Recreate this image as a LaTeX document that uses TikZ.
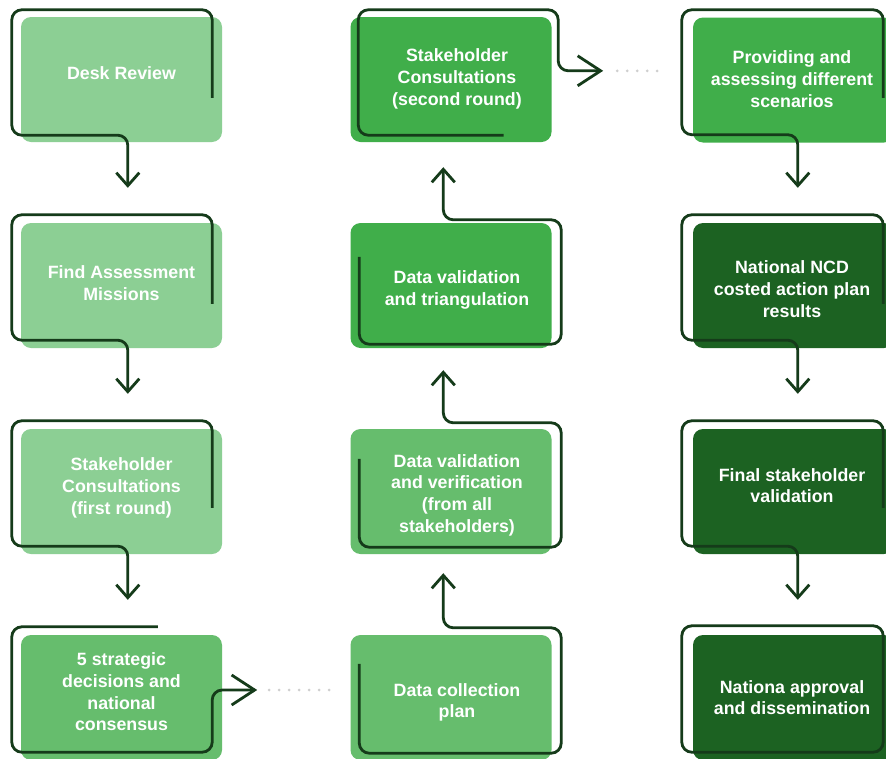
\documentclass[tikz,border=0pt]{standalone}
\usepackage{fontspec}
\setmainfont{Liberation Sans}
\usetikzlibrary{calc,arrows.meta}
\definecolor{gLight}{HTML}{8CCF94}
\definecolor{gMed}{HTML}{66BD6D}
\definecolor{gBright}{HTML}{40AE4A}
\definecolor{gDark}{HTML}{1C6222}
\definecolor{gOut}{HTML}{153B1A}
\definecolor{gDot}{HTML}{CFCFCF}
\tikzset{
  box/.style={rectangle, rounded corners=10pt, minimum width=201pt, minimum height=125pt, inner sep=0pt, draw=none},
  txt/.style={text=white, font=\bfseries\fontsize{17.8}{21.7}\selectfont, align=center, inner sep=0pt},
  flow/.style={draw=gOut, line width=2.8pt, rounded corners=10pt},
  vhead/.style={-{Straight Barb[length=13pt,width=23pt]}},
  hhead/.style={-{Straight Barb[length=23pt,width=30pt]}},
  dots/.style={draw=gDot, line width=3pt, line cap=round, dash pattern=on 0pt off 10pt}
}
\begin{document}
\begin{tikzpicture}[x=1pt,y=-1pt]
\useasboundingbox (0,0) rectangle (886,758);
\fill[white] (0,0) rectangle (886,758);
% column 1
\node[box, fill=gLight, label={[txt, yshift=6.5pt]center:Desk Review}] (a1) at (121.5,79.5) {};
\node[box, fill=gLight, label={[txt, yshift=2.5pt]center:{Find Assessment\\Missions}}] (a2) at (121.5,285.5) {};
\node[box, fill=gLight, label={[txt, yshift=3.5pt]center:{Stakeholder\\Consultations\\(first round)}}] (a3) at (121.5,491.5) {};
\node[box, fill=gMed, label={[txt, yshift=5.5pt]center:{5 strategic\\decisions and\\national\\consensus}}] (a4) at (121.5,697.5) {};
% column 2
\node[box, fill=gBright, label={[txt, xshift=6pt, yshift=0.5pt]center:{Stakeholder\\Consultations\\(second round)}}] (b1) at (451,79.5) {};
\node[box, fill=gBright, label={[txt, xshift=6pt, yshift=-4.5pt]center:{Data validation\\and triangulation}}] (b2) at (451,285.5) {};
\node[box, fill=gMed, label={[txt, xshift=6pt, yshift=-3.5pt]center:{Data validation\\and verification\\(from all\\stakeholders)}}] (b3) at (451,491.5) {};
\node[box, fill=gMed, label={[txt, xshift=6pt, yshift=-5pt]center:{Data collection\\plan}}] (b4) at (451,697.5) {};
% column 3
\node[box, fill=gBright, label={[txt, xshift=-1.5pt, yshift=1pt]center:{Providing and\\assessing different\\scenarios}}] (c1) at (793.5,80) {};
\node[box, fill=gDark, label={[txt, xshift=-1.5pt, yshift=-3.5pt]center:{National NCD\\costed action plan\\results}}] (c2) at (793.5,285.5) {};
\node[box, fill=gDark, label={[txt, xshift=-1.5pt, yshift=6pt]center:{Final stakeholder\\validation}}] (c3) at (793.5,491.5) {};
\node[box, fill=gDark, label={[txt, xshift=-1.5pt, yshift=0pt]center:{Nationa approval\\and dissemination}}] (c4) at (793.5,697.5) {};
% column 1 flows
\draw[flow, vhead] ($(a1.north east)+(-10,81)$) -- ($(a1.north east)+(-10,-7)$) -- ($(a1.north west)+(-9,-7)$) -- ($(a1.south west)+(-9,-7)$) -- ($(a1.south west)+(107,-7)$) -- ($(a2.north west)+(107,-35)$);
\draw[flow, vhead] ($(a2.north east)+(-10,81)$) -- ($(a2.north east)+(-10,-8)$) -- ($(a2.north west)+(-9,-8)$) -- ($(a2.south west)+(-9,-8)$) -- ($(a2.south west)+(107,-8)$) -- ($(a3.north west)+(107,-35)$);
\draw[flow, vhead] ($(a3.north east)+(-10,79)$) -- ($(a3.north east)+(-10,-8)$) -- ($(a3.north west)+(-9,-8)$) -- ($(a3.south west)+(-9,-8)$) -- ($(a3.south west)+(107,-8)$) -- ($(a4.north west)+(107,-35)$);
\coordinate (ta) at ($(a4.east)+(35,-7.5)$);
\draw[flow, hhead] ($(a4.north west)+(137,-8)$) -- ($(a4.north west)+(-9,-8)$) -- ($(a4.south west)+(-9,-8)$) -- ($(a4.south east)+(-10,-8)$) -- ($(a4.east)+(-10,-7.5)$) -- (ta);
\draw[dots] ($(ta)+(12,0)$) -- ($(b4.west)+(-21,-7.5)$);
% column 2 flows
\draw[flow, vhead] ($(b4.north west)+(9,29)$) -- ($(b4.south west)+(9,-7)$) -- ($(b4.south east)+(9.5,-7)$) -- ($(b4.north east)+(9.5,-7)$) -- ($(b4.north west)+(93,-7)$) -- ($(b3.south west)+(93,19)$);
\draw[flow, vhead] ($(b3.north west)+(9,30)$) -- ($(b3.south west)+(9,-7)$) -- ($(b3.south east)+(9.5,-7)$) -- ($(b3.north east)+(9.5,-6)$) -- ($(b3.north west)+(93,-6)$) -- ($(b2.south west)+(93,22)$);
\draw[flow, vhead] ($(b2.north west)+(9,34)$) -- ($(b2.south west)+(9,-4)$) -- ($(b2.south east)+(9.5,-4)$) -- ($(b2.north east)+(9.5,-3)$) -- ($(b2.north west)+(93,-3)$) -- ($(b1.south west)+(93,25)$);
\coordinate (tb) at ($(b1.north east)+(51.5,54)$);
\draw[flow, hhead] ($(b1.south east)+(-48,-7)$) -- ($(b1.south west)+(8,-7)$) -- ($(b1.north west)+(8,-7)$) -- ($(b1.north east)+(6.5,-7)$) -- ($(b1.north east)+(6.5,54)$) -- (tb);
\draw[dots] ($(tb)+(14,0)$) -- ($(c1.west)+(-26,-9)$);
% column 3 flows
\draw[flow, vhead] ($(c1.north east)+(-11,80.5)$) -- ($(c1.north east)+(-11,-7.5)$) -- ($(c1.north west)+(-11,-7.5)$) -- ($(c1.south west)+(-11,-8)$) -- ($(c1.south west)+(105,-8)$) -- ($(c2.north west)+(105,-35)$);
\draw[flow, vhead] ($(c2.north east)+(-11,81)$) -- ($(c2.north east)+(-11,-8)$) -- ($(c2.north west)+(-11,-8)$) -- ($(c2.south west)+(-11,-8)$) -- ($(c2.south west)+(105,-8)$) -- ($(c3.north west)+(105,-35)$);
\draw[flow, vhead] ($(c3.north east)+(-11,79)$) -- ($(c3.north east)+(-11,-8)$) -- ($(c3.north west)+(-11,-8)$) -- ($(c3.south west)+(-11,-8)$) -- ($(c3.south west)+(105,-8)$) -- ($(c4.north west)+(105,-35)$);
\draw[flow] ($(c4.north west)+(-11,-9)$) rectangle ($(c4.south east)+(-11,-8)$);
\end{tikzpicture}
\end{document}
